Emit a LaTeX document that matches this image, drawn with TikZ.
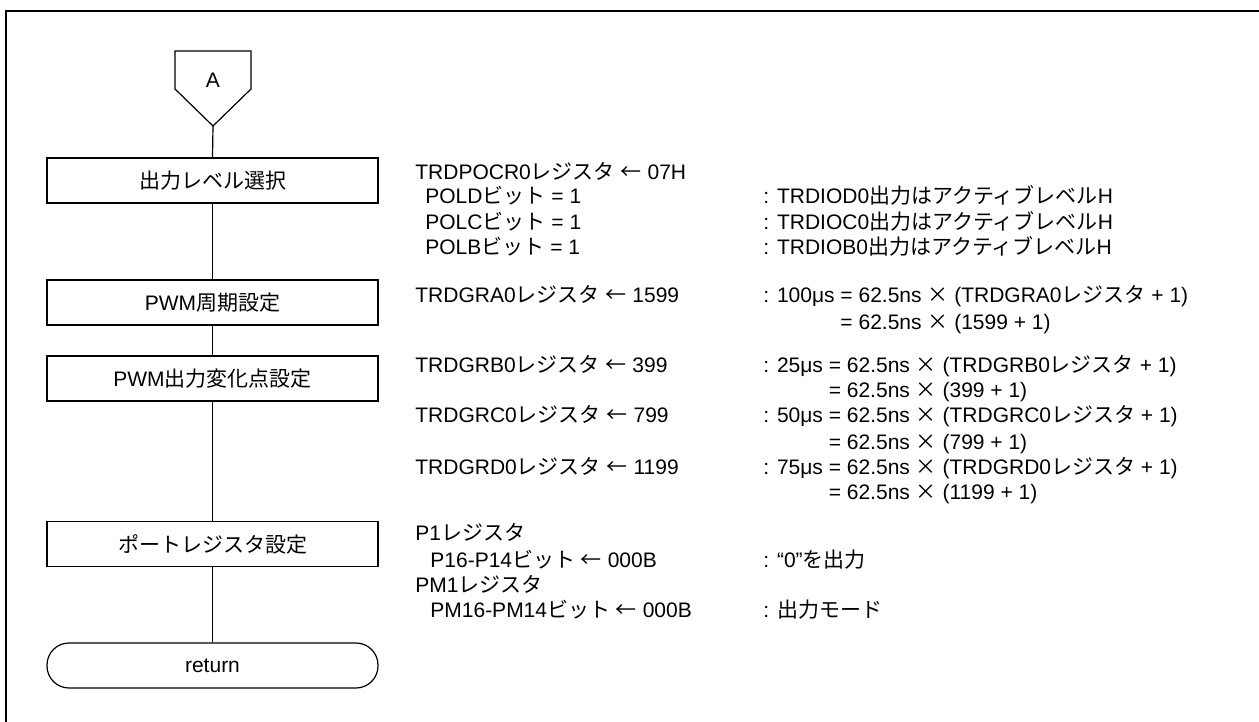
\documentclass[tikz,border=0pt]{standalone}
\usepackage{fontspec}
\setmainfont{Liberation Sans}
\newfontfamily\jpfont{Noto Sans CJK JP}
\newcommand{\jtxt}[1]{{\jpfont #1}}
\usetikzlibrary{positioning}

\begin{document}
\begin{tikzpicture}[
  x=0.5pt, y=-0.5pt,
  every node/.style={font=\fontsize{10.5}{12.5}\selectfont},
  proc/.style={draw, line width=0.6pt, minimum width=165.5pt, minimum height=22.5pt, inner sep=0pt},
  term/.style={proc, rounded corners=11pt},
  txt/.style={anchor=base west, inner sep=0pt},
  link/.style={line width=0.6pt}
]
\useasboundingbox (0,0) rectangle (1259,722);

% Frame
\draw[line width=1pt] (6,722) -- (6,11) -- (1259,11);

% Connector A
\node[inner sep=0pt] (conA) at (213,80) {A};
\draw[link] (175,51) -- (251,51) -- (251,89) -- (213,126) coordinate (conAtip) -- (175,89) -- cycle;

% Flow boxes
\node[proc] (outlvl) at (212.5,180.5) {\jtxt{出力レベル選択}};
\node[proc] (pwmper) at (212.5,302.5) {PWM\jtxt{周期設定}};
\node[proc] (pwmchg) at (212.5,378.5) {PWM\jtxt{出力変化点設定}};
\node[proc] (portreg) at (212.5,544) {\jtxt{ポートレジスタ設定}};
\node[term] (ret) at (212.5,665.5) {return};

\draw[link] (conAtip) -- (outlvl.north);
\draw[link] (outlvl) -- (pwmper);
\draw[link] (pwmper) -- (pwmchg);
\draw[link] (pwmchg) -- (portreg);
\draw[link] (portreg) -- (ret);

% Output level
\node[txt] (pocr) at (415,179) {TRDPOCR0\jtxt{レジスタ} \jtxt{←} 07H};
\node[txt] (pold) at (425,204) {POLD\jtxt{ビット} = 1};
\node[txt] (polc) at (425,229) {POLC\jtxt{ビット} = 1};
\node[txt] (polb) at (425,254) {POLB\jtxt{ビット} = 1};
\node[txt] (poldc) at (763,204) {: TRDIOD0\jtxt{出力はアクティブレベル}H};
\node[txt] (polcc) at (763,229) {: TRDIOC0\jtxt{出力はアクティブレベル}H};
\node[txt] (polbc) at (763,254) {: TRDIOB0\jtxt{出力はアクティブレベル}H};

% PWM period
\node[txt] (gra) at (415,302) {TRDGRA0\jtxt{レジスタ} \jtxt{←} 1599};
\node[txt] (grac) at (763,302) {: 100μs = 62.5ns \jtxt{×} (TRDGRA0\jtxt{レジスタ} + 1)};
\node[txt] (grad) at (763,329) {\phantom{: 100μs }= 62.5ns \jtxt{×} (1599 + 1)};

% PWM change points
\node[txt] (grb) at (415,372) {TRDGRB0\jtxt{レジスタ} \jtxt{←} 399};
\node[txt] (grbc) at (763,372) {: 25μs = 62.5ns \jtxt{×} (TRDGRB0\jtxt{レジスタ} + 1)};
\node[txt] (grbd) at (763,397) {\phantom{: 25μs }= 62.5ns \jtxt{×} (399 + 1)};
\node[txt] (grc) at (415,422) {TRDGRC0\jtxt{レジスタ} \jtxt{←} 799};
\node[txt] (grcc) at (763,422) {: 50μs = 62.5ns \jtxt{×} (TRDGRC0\jtxt{レジスタ} + 1)};
\node[txt] (grcd) at (763,449) {\phantom{: 50μs }= 62.5ns \jtxt{×} (799 + 1)};
\node[txt] (grd) at (415,474) {TRDGRD0\jtxt{レジスタ} \jtxt{←} 1199};
\node[txt] (grdc) at (763,474) {: 75μs = 62.5ns \jtxt{×} (TRDGRD0\jtxt{レジスタ} + 1)};
\node[txt] (grdd) at (763,499) {\phantom{: 75μs }= 62.5ns \jtxt{×} (1199 + 1)};

% Port registers
\node[txt] (p1) at (415,540) {P1\jtxt{レジスタ}};
\node[txt] (p1b) at (430,567) {P16-P14\jtxt{ビット} \jtxt{←} 000B};
\node[txt] (p1c) at (763,567) {: “0”\jtxt{を出力}};
\node[txt] (pm1) at (415,592) {PM1\jtxt{レジスタ}};
\node[txt] (pm1b) at (430,617) {PM16-PM14\jtxt{ビット} \jtxt{←} 000B};
\node[txt] (pm1c) at (763,617) {: \jtxt{出力モード}};

\end{tikzpicture}
\end{document}
